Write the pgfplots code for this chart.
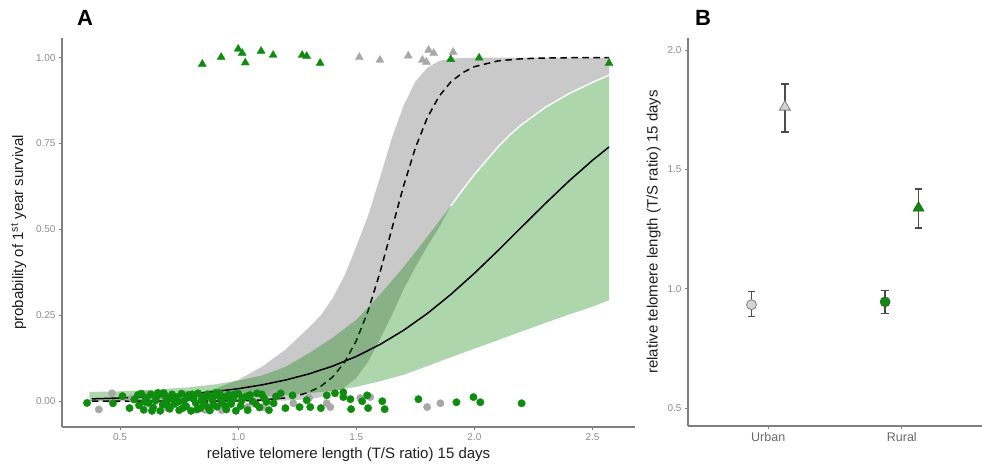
\documentclass[border=0pt]{standalone}
\usepackage{fontspec}
\setmainfont{Liberation Sans}
\usepackage{pgfplots}
\pgfplotsset{compat=1.18}

\definecolor{ptgreen}{RGB}{14,140,14}
\definecolor{ptgrey}{RGB}{168,168,168}
\definecolor{axgrey}{RGB}{128,128,128}
\definecolor{tickgrey}{RGB}{140,140,140}
\definecolor{catgrey}{RGB}{105,105,105}
\definecolor{ribgreen}{RGB}{0,128,0}
\definecolor{errgrey}{RGB}{75,75,75}
\definecolor{ltgrey}{RGB}{211,211,211}

\pgfplotsset{
  ggstyle/.style={
    scale only axis,
    axis lines=left,
    axis line style={-, axgrey, line width=1.2pt},
    tick align=outside,
    major tick length=3pt,
    tick style={axgrey, line width=0.8pt},
    ticklabel style={font=\fontsize{10}{11}\selectfont, text=tickgrey},
    label style={font=\fontsize{15}{17}\selectfont, text=black!88},
  },
  ggerr/.style={
    error bars/.cd, y dir=both, y explicit,
    error bar style={errgrey, line width=1.3pt},
    error mark=-,
    error mark options={rotate=90, errgrey, line width=1.3pt, mark size=3.8pt},
  },
}

\begin{document}
\begin{tikzpicture}
\useasboundingbox (0,0) rectangle (982pt,465pt);

% ---------------- panel A ----------------
\begin{axis}[ggstyle,
  at={(62pt,38pt)}, anchor=south west,
  width=573pt, height=389pt,
  xmin=0.254, xmax=2.68, ymin=-0.075, ymax=1.057,
  xtick={0.5,1,1.5,2,2.5}, xticklabels={0.5,1.0,1.5,2.0,2.5},
  ytick={0,0.25,0.5,0.75,1}, yticklabels={0.00,0.25,0.50,0.75,1.00},
  xlabel={relative telomere length (T/S ratio) 15 days},
  ylabel={probability of 1\textsuperscript{st} year survival},
  ylabel style={yshift=3pt},
]

% grey dots (urban, died)
\addplot[only marks, mark=*, mark size=3.7pt, color=ptgrey] table {
0.41 -0.024
0.466 0.023
0.55 0.008
0.62 0.020
0.70 -0.020
0.78 0.020
0.86 -0.025
0.93 -0.026
1.04 -0.017
1.106 -0.017
1.15 0.023
1.233 -0.006
1.30 0.010
1.375 -0.006
1.39 -0.017
1.517 0.009
1.559 0.012
1.80 -0.017
1.856 -0.006
};

% green dots (rural, died)
\addplot[only marks, mark=*, mark size=3.7pt, color=ptgreen] table {
0.36 -0.005
0.47 -0.006
0.51 0.015
0.54 -0.020
0.56 0.005
0.575 0.018
0.58 -0.012
0.59 0.022
0.60 -0.025
0.605 -0.002
0.61 0.010
0.62 -0.005
0.63 0.020
0.635 -0.028
0.64 -0.018
0.65 0.002
0.655 0.014
0.66 0.024
0.67 -0.028
0.68 -0.010
0.685 0.024
0.69 0.015
0.70 0.003
0.705 -0.015
0.71 -0.022
0.72 0.020
0.725 0.006
0.73 -0.008
0.74 0.012
0.745 -0.002
0.75 -0.026
0.76 0.022
0.765 -0.020
0.77 0.000
0.78 -0.015
0.785 0.010
0.79 0.018
0.80 -0.028
0.805 0.020
0.81 0.008
0.82 -0.005
0.825 -0.024
0.83 0.023
0.84 -0.020
0.845 0.002
0.85 0.010
0.86 -0.010
0.865 0.014
0.87 0.020
0.875 -0.020
0.88 -0.027
0.89 0.004
0.895 -0.010
0.90 0.016
0.905 0.024
0.91 -0.016
0.92 0.024
0.925 0.010
0.93 -0.004
0.94 0.012
0.945 -0.014
0.95 -0.024
0.96 0.019
0.965 0.004
0.97 -0.008
0.98 0.006
0.985 0.020
0.99 -0.028
1.00 0.022
1.01 -0.014
1.015 0.002
1.02 0.010
1.035 0.014
1.04 -0.026
1.05 0.018
1.06 0.000
1.075 -0.008
1.08 0.023
1.09 -0.018
1.10 0.020
1.11 0.008
1.12 -0.002
1.13 -0.026
1.15 -0.006
1.16 0.014
1.18 0.023
1.20 -0.020
1.23 0.017
1.26 -0.017
1.29 0.003
1.305 -0.017
1.35 -0.020
1.375 0.017
1.41 0.023
1.445 0.026
1.445 0.012
1.475 0.006
1.478 -0.023
1.525 0.000
1.546 0.017
1.55 -0.020
1.61 0.000
1.62 -0.023
1.763 0.006
1.924 -0.003
1.996 0.012
2.025 -0.003
2.20 -0.006
};

% grey confidence ribbon (urban)
\addplot[fill=black, fill opacity=0.21, draw=none] table {
0.37 0.004
0.6 0.008
0.8 0.020
0.9 0.036
1.0 0.062
1.1 0.100
1.2 0.150
1.3 0.215
1.35 0.250
1.4 0.300
1.45 0.365
1.5 0.450
1.55 0.540
1.6 0.650
1.65 0.765
1.7 0.860
1.75 0.930
1.8 0.970
1.85 0.990
1.9 0.997
2.0 1.000
2.57 1.000
2.57 0.949
2.5 0.928
2.4 0.895
2.3 0.855
2.2 0.805
2.15 0.775
2.1 0.740
2.05 0.700
2.0 0.660
1.95 0.615
1.9 0.568
1.85 0.505
1.8 0.450
1.75 0.390
1.7 0.325
1.65 0.250
1.6 0.180
1.55 0.115
1.5 0.068
1.45 0.040
1.4 0.022
1.35 0.012
1.3 0.006
1.2 0.002
1.0 0.0002
0.37 0.000
};

% urban fit (dashed)
\addplot[black, line width=1.5pt, dash pattern=on 6.5pt off 4.5pt] table {
0.38 0.0000
0.6 0.0000
0.8 0.0002
0.9 0.0004
1.0 0.0012
1.1 0.0034
1.2 0.0096
1.25 0.0160
1.3 0.0265
1.35 0.0435
1.4 0.0708
1.45 0.113
1.5 0.176
1.55 0.263
1.6 0.374
1.65 0.500
1.7 0.626
1.75 0.737
1.8 0.824
1.85 0.887
1.9 0.929
1.95 0.956
2.0 0.9735
2.1 0.9904
2.2 0.9965
2.3 0.9988
2.4 0.9996
2.57 0.9999
};

% green confidence ribbon (rural)
\addplot[fill=ribgreen, fill opacity=0.32, draw=none] table {
0.37 0.027
0.5 0.029
0.6 0.032
0.7 0.036
0.8 0.041
0.9 0.049
1.0 0.060
1.1 0.075
1.2 0.100
1.3 0.140
1.4 0.185
1.5 0.237
1.6 0.310
1.7 0.390
1.8 0.478
1.85 0.523
1.9 0.568
1.95 0.615
2.0 0.660
2.05 0.700
2.1 0.740
2.15 0.775
2.2 0.805
2.3 0.855
2.4 0.895
2.5 0.928
2.57 0.949
2.57 0.294
2.5 0.275
2.4 0.252
2.3 0.228
2.2 0.203
2.1 0.178
2.0 0.153
1.9 0.128
1.8 0.102
1.7 0.077
1.6 0.058
1.5 0.042
1.4 0.030
1.2 0.017
1.0 0.010
0.8 0.006
0.6 0.004
0.37 0.002
};

% white edge between the ribbons
\addplot[white, line width=1.4pt] table {
1.9 0.568
1.95 0.615
2.0 0.660
2.05 0.700
2.1 0.740
2.15 0.775
2.2 0.805
2.3 0.855
2.4 0.895
2.5 0.928
2.57 0.949
};

% rural fit (solid)
\addplot[black, line width=1.5pt] table {
0.38 0.0068
0.5 0.0095
0.6 0.0125
0.7 0.0163
0.8 0.0214
0.9 0.0280
1.0 0.0365
1.1 0.0475
1.2 0.0617
1.3 0.0796
1.4 0.1022
1.5 0.1304
1.6 0.1649
1.7 0.2063
1.8 0.2549
1.9 0.3106
2.0 0.3723
2.1 0.4384
2.2 0.5069
2.3 0.5750
2.4 0.6405
2.5 0.7011
2.57 0.7398
};

% survivors (triangles)
\addplot[only marks, mark=triangle*, mark size=4.6pt, color=ptgrey] table {
1.513 1.001
1.60 0.993
1.72 1.005
1.78 0.993
1.797 0.987
1.806 1.022
1.828 1.013
1.91 1.016
};
\addplot[only marks, mark=triangle*, mark size=4.6pt, color=ptgreen] table {
0.848 0.981
0.928 1.001
1.000 1.025
1.017 1.013
1.030 0.985
1.097 1.019
1.148 1.007
1.271 1.007
1.290 1.004
1.347 0.984
1.90 0.995
2.02 0.999
2.57 0.984
};
\end{axis}

% ---------------- panel B ----------------
\begin{axis}[ggstyle,
  at={(688pt,39pt)}, anchor=south west,
  width=294pt, height=388pt,
  xmin=0.4, xmax=2.6, ymin=0.425, ymax=2.05,
  xtick={1,2}, xticklabels={Urban,Rural},
  xticklabel style={font=\fontsize{12.5}{14}\selectfont, text=catgrey},
  ytick={0.5,1,1.5,2}, yticklabels={0.5,1.0,1.5,2.0},
  ylabel={relative telomere length (T/S ratio) 15 days},
]
\addplot[only marks, mark=*, mark size=5pt,
  mark options={fill=ltgrey, draw=axgrey, line width=0.8pt}, ggerr]
  coordinates {(0.875,0.933) += (0,0.054) -= (0,0.050)};
\addplot[only marks, mark=triangle*, mark size=6.3pt,
  mark options={fill=ltgrey, draw=axgrey, line width=0.8pt}, ggerr]
  coordinates {(1.125,1.761) += (0,0.096) -= (0,0.105)};
\addplot[only marks, mark=*, mark size=5pt,
  mark options={fill=ptgreen, draw=black!70, line width=0.6pt}, ggerr]
  coordinates {(1.875,0.945) += (0,0.047) -= (0,0.050)};
\addplot[only marks, mark=triangle*, mark size=6.3pt,
  mark options={fill=ptgreen, draw=ptgreen!70!black, line width=0.6pt}, ggerr]
  coordinates {(2.125,1.338) += (0,0.080) -= (0,0.084)};
\end{axis}

\node[font=\bfseries\fontsize{22}{24}\selectfont] at (85pt,447pt) {A};
\node[font=\bfseries\fontsize{22}{24}\selectfont] at (703pt,447pt) {B};
\end{tikzpicture}
\end{document}
